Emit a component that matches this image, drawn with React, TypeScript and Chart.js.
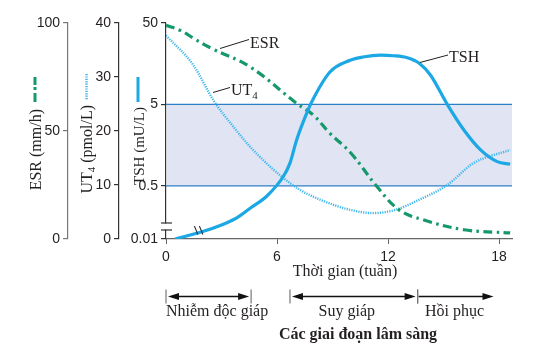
import React, { useEffect, useRef } from "react";
import { Chart, registerables } from "chart.js";
Chart.register(...registerables);

// ---- data (weeks on x) ----
const tshWeeks = [0.49, 1.9, 3.0, 3.8, 4.6, 5.44, 6.34, 6.7, 7.06, 7.6, 7.88, 8.86, 9.95, 10.65, 11.6, 12.3, 13.0, 13.7, 14.3, 15.2, 16.1, 17.0, 17.9, 18.6];
const tshValues = [0.111, 0.135, 0.165, 0.2, 0.27, 0.372, 0.65, 0.95, 1.83, 3.88, 5.4, 12.5, 17.4, 19.1, 20.1, 19.8, 18.8, 15.9, 11.4, 5, 2.42, 1.38, 0.99, 0.92];

const esrWeeks = [0, 0.76, 1.57, 2.47, 4.54, 7.06, 7.96, 8.86, 10.0, 11.4, 12.6, 13.9, 16.1, 18.6];
const esrValues = [98.9, 96.6, 92.5, 88.2, 79.7, 62.8, 57.4, 48.9, 39.7, 24.3, 13.5, 8.9, 4.3, 2.8];

const ut4Weeks = [0, 1.48, 2.56, 3.64, 4.54, 5.44, 6.34, 7.24, 8.32, 9.95, 11.2, 12.4, 13.7, 15.2, 16.6, 18.6];
const ut4Values = [37.7, 32.2, 25.7, 20.8, 17.1, 14.0, 11.3, 9.1, 7.3, 5.4, 4.8, 5.4, 7.3, 10.0, 14.0, 16.5];

const normalTSH = [0.5, 5];

const xTicks = [0, 6, 12, 18];
const esrTicks = [0, 50, 100];
const ut4Ticks = [0, 10, 20, 30, 40];
const TSH_FLOOR = 0.111; // axis bottom, after the axis break (labelled 0.01)
const tshTicks = [TSH_FLOOR, 0.5, 5, 50];
const tshTickLabels = ["0.01", "0.5", "5", "50"];

const phaseNames = ["Nhiễm độc giáp", "Suy giáp", "Hồi phục"];
const phaseStart = [0, 6.7, 13.6];
const phaseEnd = [4.6, 13.6, 17.7];
const phaseOpenEnded = [false, false, true];

const SERIF = '"Liberation Serif", "Times New Roman", serif';
const SANS = '"Liberation Sans", Arial, sans-serif';
const INK = "#231f20";
const C_TSH = "#1ba8e4";
const C_ESR = "#16996a";
const C_UT4 = "#3db7ee";

const pts = (xs: number[], ys: number[]) => xs.map((x, i) => ({ x, y: ys[i] }));

function line(ctx: CanvasRenderingContext2D, x1: number, y1: number, x2: number, y2: number) {
  ctx.beginPath();
  ctx.moveTo(x1, y1);
  ctx.lineTo(x2, y2);
  ctx.stroke();
}

// draw a vertical (rotated) title made of parts [text, size, dy]; top end at yTop
function vTitle(ctx: CanvasRenderingContext2D, parts: [string, number, number][], cx: number, yTop: number) {
  let total = 0;
  const widths = parts.map(([t, s]) => {
    ctx.font = `${s}px ${SERIF}`;
    const w = ctx.measureText(t).width;
    total += w;
    return w;
  });
  ctx.save();
  ctx.translate(cx, yTop + total);
  ctx.rotate(-Math.PI / 2);
  ctx.textBaseline = "middle";
  ctx.textAlign = "left";
  let x = 0;
  parts.forEach(([t, s, dy], i) => {
    ctx.font = `${s}px ${SERIF}`;
    ctx.fillText(t, x, dy);
    x += widths[i];
  });
  ctx.restore();
}

function hText(ctx: CanvasRenderingContext2D, parts: [string, number, number][], x: number, y: number) {
  ctx.textBaseline = "alphabetic";
  ctx.textAlign = "left";
  parts.forEach(([t, s, dy]) => {
    ctx.font = `${s}px ${SERIF}`;
    ctx.fillText(t, x, y + dy);
    x += ctx.measureText(t).width;
  });
}

function head(ctx: CanvasRenderingContext2D, x: number, y: number, dir: number) {
  ctx.beginPath();
  ctx.moveTo(x, y);
  ctx.lineTo(x - dir * 11, y - 3.5);
  ctx.lineTo(x - dir * 11, y + 3.5);
  ctx.closePath();
  ctx.fill();
}

const overlay = {
  id: "overlay",
  beforeDatasetsDraw(chart: any) {
    const { ctx, chartArea: ca, scales } = chart;
    const y = scales.yTSH;
    const yTop = y.getPixelForValue(normalTSH[1]);
    const yBot = y.getPixelForValue(normalTSH[0]);
    ctx.save();
    ctx.fillStyle = "#e1e4f3";
    ctx.fillRect(ca.left + 1, yTop, ca.right - ca.left - 1, yBot - yTop);
    ctx.strokeStyle = "#2f7fc6";
    ctx.lineWidth = 1.3;
    line(ctx, ca.left, yTop, ca.right, yTop);
    line(ctx, ca.left, yBot, ca.right, yBot);
    ctx.restore();
  },
  afterDraw(chart: any) {
    const { ctx, chartArea: ca, scales } = chart;
    const xs = scales.x;
    ctx.save();

    // axis break on TSH axis
    const bx = ca.left;
    const bb = ca.bottom;
    ctx.fillStyle = "#ffffff";
    ctx.fillRect(bx - 2, bb - 15.5, 4, 6);
    ctx.strokeStyle = "#333";
    ctx.lineWidth = 1.2;
    line(ctx, bx - 5, bb - 16, bx + 6, bb - 16);
    line(ctx, bx - 5, bb - 9, bx + 6, bb - 9);

    // break marks on TSH curve
    const cx = xs.getPixelForValue(1.75);
    ctx.strokeStyle = "#333";
    ctx.lineWidth = 1.1;
    line(ctx, cx - 4, bb - 13, cx - 0.5, bb - 4.5);
    line(ctx, cx + 1, bb - 13, cx + 4.5, bb - 4.5);

    // axis titles + legend samples
    ctx.fillStyle = INK;
    const esrX = scales.yESR.left + 31;
    vTitle(ctx, [["ESR (mm/h)", 16, 0]], esrX, 109);
    const utX = scales.yUT4.left + 20;
    vTitle(ctx, [["UT", 16, 0], ["4", 11, 4], [" (pmol/L)", 16, 0]], utX, 105);
    const tX = scales.yTSH.left + 21;
    vTitle(ctx, [["TSH (mU/L)", 15, 0]], tX, 107);

    ctx.lineCap = "butt";
    ctx.strokeStyle = C_ESR;
    ctx.lineWidth = 3;
    line(ctx, esrX - 2, 77, esrX - 2, 85);
    line(ctx, esrX - 2, 87, esrX - 2, 90);
    line(ctx, esrX - 2, 93, esrX - 2, 102);

    ctx.strokeStyle = C_UT4;
    ctx.lineWidth = 2.5;
    ctx.setLineDash([1.2, 1.2]);
    line(ctx, utX - 1.5, 74, utX - 1.5, 100);
    ctx.setLineDash([]);

    ctx.strokeStyle = C_TSH;
    ctx.lineWidth = 3;
    line(ctx, tX - 2, 77, tX - 2, 102);

    // curve labels
    ctx.strokeStyle = INK;
    ctx.lineWidth = 1;
    ctx.fillStyle = INK;
    line(ctx, 220, 48.5, 249, 39.5);
    hText(ctx, [["ESR", 16, 0]], 250, 48);
    line(ctx, 213, 92.5, 230, 87.5);
    hText(ctx, [["UT", 16, 0], ["4", 11, 3.5]], 231, 95);
    line(ctx, 420, 62.5, 448, 55);
    hText(ctx, [["TSH", 16, 0]], 449, 62);

    // x title
    ctx.font = `16px ${SERIF}`;
    ctx.textAlign = "center";
    ctx.textBaseline = "alphabetic";
    ctx.fillText("Thời gian (tuần)", 345, 276);

    // phases
    const ay = 296.5;
    phaseNames.forEach((name, i) => {
      const x0 = xs.getPixelForValue(phaseStart[i]);
      const x1 = xs.getPixelForValue(phaseEnd[i]);
      ctx.strokeStyle = "#777";
      ctx.lineWidth = 1.2;
      line(ctx, x0, ay - 7, x0, ay + 7);
      if (!phaseOpenEnded[i]) line(ctx, x1, ay - 7, x1, ay + 7);
      ctx.strokeStyle = "#111";
      ctx.fillStyle = "#111";
      ctx.lineWidth = 1.6;
      if (phaseOpenEnded[i]) {
        line(ctx, x0 + 1, ay, x1 - 6, ay);
        head(ctx, x1, ay, 1);
      } else {
        line(ctx, x0 + 6, ay, x1 - 6, ay);
        head(ctx, x0 + 2, ay, -1);
        head(ctx, x1 - 2, ay, 1);
      }
      ctx.fillStyle = INK;
      ctx.font = `16px ${SERIF}`;
      if (i === 0) {
        ctx.textAlign = "left";
        ctx.fillText(name, x0, 316);
      } else {
        ctx.textAlign = "center";
        ctx.fillText(name, (x0 + x1) / 2 - (i === 1 ? 7 : 1), 316);
      }
    });

    ctx.font = `bold 16px ${SERIF}`;
    ctx.textAlign = "center";
    ctx.fillText("Các giai đoạn lâm sàng", 358, 339);
    ctx.restore();
  },
};

function leftAxis(weight: number, width: number, tickVals: number[], color: string, labels?: string[]) {
  return {
    position: "left",
    weight,
    afterFit: (s: any) => {
      s.width = width;
    },
    afterBuildTicks: (s: any) => {
      s.ticks = tickVals.map((v) => ({ value: v }));
    },
    border: { display: true, color, width: 1.2 },
    grid: { drawOnChartArea: false, color, tickLength: 5, lineWidth: 1.2 },
    ticks: {
      color: INK,
      padding: 3,
      font: { family: SANS, size: 14 },
      callback: (v: any, i: number) => (labels ? labels[i] : String(v)),
    },
  };
}

export default function App() {
  const ref = useRef<HTMLCanvasElement | null>(null);
  useEffect(() => {
    if (!ref.current) return;
    const chart = new Chart(ref.current, {
      type: "line",
      data: {
        datasets: [
          {
            label: "TSH",
            data: pts(tshWeeks, tshValues),
            yAxisID: "yTSH",
            borderColor: C_TSH,
            borderWidth: 3.2,
            pointRadius: 0,
            cubicInterpolationMode: "monotone",
          },
          {
            label: "ESR",
            data: pts(esrWeeks, esrValues),
            yAxisID: "yESR",
            borderColor: C_ESR,
            borderWidth: 3.2,
            borderDash: [9, 4.5, 2.5, 4.5],
            pointRadius: 0,
            tension: 0.4,
          },
          {
            label: "UT4",
            data: pts(ut4Weeks, ut4Values),
            yAxisID: "yUT4",
            borderColor: C_UT4,
            borderWidth: 2.4,
            borderDash: [1.2, 1.2],
            pointRadius: 0,
            cubicInterpolationMode: "monotone",
          },
        ] as any,
      },
      options: {
        animation: false,
        responsive: false,
        events: [],
        layout: { padding: { left: 6, top: 23, right: 33, bottom: 0 } },
        plugins: { legend: { display: false }, tooltip: { enabled: false } },
        scales: {
          x: {
            type: "linear",
            min: 0,
            max: 18.7,
            afterFit: (s: any) => {
              s.height = 112;
            },
            afterBuildTicks: (s: any) => {
              s.ticks = xTicks.map((v) => ({ value: v }));
            },
            border: { display: true, color: "#666", width: 1.2 },
            grid: { drawOnChartArea: false, color: "#666", tickLength: 5 },
            ticks: { color: INK, padding: 5, font: { family: SANS, size: 14 }, maxRotation: 0 },
          },
          yESR: { ...leftAxis(3, 62, esrTicks, "#777"), type: "linear", min: 0, max: 100 },
          yUT4: { ...leftAxis(2, 51, ut4Ticks, "#333"), type: "linear", min: 0, max: 40 },
          yTSH: { ...leftAxis(1, 47, tshTicks, "#333", tshTickLabels), type: "logarithmic", min: TSH_FLOOR, max: 50 },
        } as any,
      },
      plugins: [overlay],
    });
    return () => chart.destroy();
  }, []);
  return (
    <div style={{ position: "absolute", left: 0, top: 0, width: 545, height: 351, background: "#fff" }}>
      <canvas ref={ref} width={545} height={351} />
    </div>
  );
}
